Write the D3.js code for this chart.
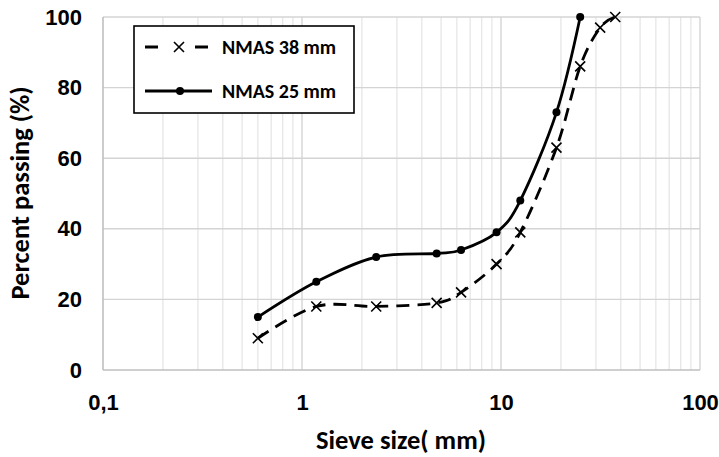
<!DOCTYPE html>
<html>
<head>
<meta charset="utf-8">
<script src="https://cdn.jsdelivr.net/npm/d3@7"></script>
<style>
  html, body { margin: 0; padding: 0; background: #fff; }
  svg { display: block; font-family: Carlito, Calibri, Lato, "Open Sans", sans-serif; font-weight: bold; }
</style>
</head>
<body>
<svg id="chart" width="719" height="457"></svg>
<script>
// ---- data ----
const sieves38 = [0.6, 1.18, 2.36, 4.75, 6.3, 9.5, 12.5, 19, 25, 31.5, 37.5];
const passing38 = [9, 18, 18, 19, 22, 30, 39, 63, 86, 97, 100];
const sieves25 = [0.6, 1.18, 2.36, 4.75, 6.3, 9.5, 12.5, 19, 25];
const passing25 = [15, 25, 32, 33, 34, 39, 48, 73, 100];
const seriesNames = ["NMAS 38 mm", "NMAS 25 mm"];
const xTickValues = [0.1, 1, 10, 100];
const xTickLabels = ["0,1", "1", "10", "100"];
const yTickValues = [0, 20, 40, 60, 80, 100];
const xTitle = "Sieve size( mm)";
const yTitle = "Percent passing (%)";

// ---- layout ----
const svg = d3.select("#chart");
const pLeft = 103, pRight = 700, pTop = 17, pBottom = 370;

const x = d3.scaleLog().domain([0.1, 100]).range([pLeft, pRight]);
const y = d3.scaleLinear().domain([0, 100]).range([pBottom, pTop]);

// minor vertical gridlines
const minor = [];
for (let d = 0.1; d < 100; d *= 10) {
  for (let k = 2; k <= 9; k++) minor.push(+(d * k).toPrecision(3));
}
const grid = svg.append("g");
grid.selectAll("line.minor").data(minor).join("line")
  .attr("x1", d => x(d)).attr("x2", d => x(d))
  .attr("y1", pTop).attr("y2", pBottom)
  .attr("stroke", "#e4e4e4").attr("stroke-width", 1.2);
grid.selectAll("line.major").data(xTickValues.slice(1)).join("line")
  .attr("x1", d => x(d)).attr("x2", d => x(d))
  .attr("y1", pTop).attr("y2", pBottom)
  .attr("stroke", "#d4d4d4").attr("stroke-width", 1.4);
grid.selectAll("line.h").data(yTickValues.slice(1)).join("line")
  .attr("x1", pLeft).attr("x2", pRight)
  .attr("y1", d => y(d)).attr("y2", d => y(d))
  .attr("stroke", "#d4d4d4").attr("stroke-width", 1.4);

// axis lines
svg.append("line").attr("x1", pLeft).attr("x2", pRight).attr("y1", pBottom).attr("y2", pBottom)
  .attr("stroke", "#bfbfbf").attr("stroke-width", 1.6);
svg.append("line").attr("x1", pLeft).attr("x2", pLeft).attr("y1", pTop).attr("y2", pBottom)
  .attr("stroke", "#bfbfbf").attr("stroke-width", 1.6);

// axes (labels only)
const xAxis = d3.axisBottom(x).tickValues(xTickValues)
  .tickFormat((d, i) => xTickLabels[i]).tickSize(0).tickPadding(24);
const gx = svg.append("g").attr("transform", `translate(0,${pBottom})`).call(xAxis);
gx.select(".domain").remove();
gx.selectAll("text").attr("font-size", 22).attr("font-family", null).attr("fill", "#000")
  .attr("dy", null).attr("y", 40);

const yAxis = d3.axisLeft(y).tickValues(yTickValues).tickSize(0).tickPadding(21);
const gy = svg.append("g").attr("transform", `translate(${pLeft},0)`).call(yAxis);
gy.select(".domain").remove();
gy.selectAll("text").attr("font-size", 22).attr("font-family", null).attr("fill", "#000");

// titles
svg.append("text").attr("x", 401).attr("y", 449).attr("text-anchor", "middle")
  .attr("font-size", 26.5).text(xTitle);
svg.append("text").attr("transform", "translate(29,193) rotate(-90)")
  .attr("text-anchor", "middle").attr("font-size", 26.5).text(yTitle);

// lines
const line = d3.line().x(d => x(d[0])).y(d => y(d[1])).curve(d3.curveCatmullRom.alpha(0));
const d38 = sieves38.map((s, i) => [s, passing38[i]]);
const d25 = sieves25.map((s, i) => [s, passing25[i]]);

svg.append("path").attr("d", line(d38)).attr("fill", "none")
  .attr("stroke", "#000").attr("stroke-width", 2.8).attr("stroke-dasharray", "13,8");
svg.append("path").attr("d", line(d25)).attr("fill", "none")
  .attr("stroke", "#000").attr("stroke-width", 2.8);

function cross(g, cx, cy, s) {
  g.append("path").attr("d", `M${cx - s},${cy - s}L${cx + s},${cy + s}M${cx - s},${cy + s}L${cx + s},${cy - s}`)
    .attr("stroke", "#000").attr("stroke-width", 1.6).attr("fill", "none");
}
const m38 = svg.append("g");
d38.forEach(d => cross(m38, x(d[0]), y(d[1]), 5));
svg.append("g").selectAll("circle").data(d25).join("circle")
  .attr("cx", d => x(d[0])).attr("cy", d => y(d[1])).attr("r", 4).attr("fill", "#000");

// legend
const lg = svg.append("g");
lg.append("rect").attr("x", 134).attr("y", 26).attr("width", 220).attr("height", 87)
  .attr("fill", "#fff").attr("stroke", "#000").attr("stroke-width", 1.6);
const rows = [47, 91];
lg.append("line").attr("x1", 145).attr("x2", 208).attr("y1", rows[0]).attr("y2", rows[0])
  .attr("stroke", "#000").attr("stroke-width", 2.8).attr("stroke-dasharray", "13,12");
lg.append("rect").attr("x", 170).attr("y", rows[0] - 3).attr("width", 18).attr("height", 6).attr("fill", "#fff");
cross(lg, 179, rows[0], 5);
lg.append("line").attr("x1", 145).attr("x2", 212).attr("y1", rows[1]).attr("y2", rows[1])
  .attr("stroke", "#000").attr("stroke-width", 2.8);
lg.append("circle").attr("cx", 180).attr("cy", rows[1]).attr("r", 4).attr("fill", "#000");
seriesNames.forEach((n, i) => {
  lg.append("text").attr("x", 222).attr("y", rows[i] + 7).attr("font-size", 20).text(n);
});
</script>
</body>
</html>
